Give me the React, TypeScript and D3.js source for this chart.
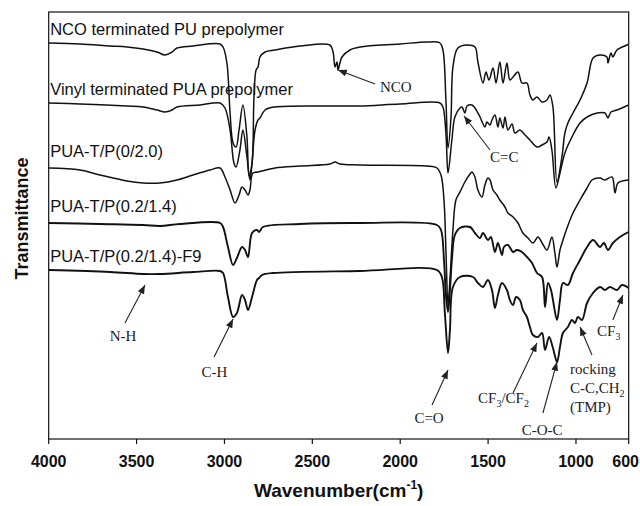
import React from "react";
import * as d3 from "d3";

type Pt = [number, number]; // [wavenumber cm-1, transmittance a.u. (stacked)]

const SERIES_NAMES = [
  "NCO terminated PU prepolymer",
  "Vinyl terminated PUA prepolymer",
  "PUA-T/P(0/2.0)",
  "PUA-T/P(0.2/1.4)",
  "PUA-T/P(0.2/1.4)-F9",
];
const LABEL_LEVELS = [404, 344, 282, 227, 177];

const ncoSpectrum: Pt[] = [
  [4000, 396], [3822, 395], [3651, 393], [3555, 392], [3463, 390], [3384, 387], [3338, 384], [3298, 387],
  [3270, 391], [3179, 393], [3025, 395], [3008, 392], [2986, 376], [2968, 326], [2951, 296], [2934, 292],
  [2917, 309], [2895, 334], [2872, 302], [2860, 263], [2843, 276], [2832, 342], [2820, 369], [2809, 372],
  [2798, 382], [2769, 387], [2712, 389], [2570, 393], [2400, 394], [2382, 387], [2371, 372], [2360, 377],
  [2354, 369], [2343, 376], [2331, 382], [2286, 389], [2229, 392], [2001, 395], [1848, 397], [1774, 396],
  [1757, 389], [1740, 339], [1728, 291], [1711, 322], [1700, 372], [1672, 391], [1620, 394], [1575, 392],
  [1558, 377], [1529, 356], [1512, 367], [1495, 359], [1472, 371], [1455, 356], [1433, 377], [1415, 356],
  [1393, 376], [1376, 359], [1358, 362], [1330, 367], [1307, 356], [1279, 356], [1262, 344], [1245, 339],
  [1222, 342], [1193, 337], [1165, 339], [1148, 344], [1131, 332], [1108, 257], [1080, 282], [1063, 306],
  [1046, 316], [1017, 326], [977, 339], [937, 356], [903, 381], [863, 384], [824, 382], [818, 376],
  [801, 386], [790, 382], [767, 389], [710, 394], [701, 395],
];

const vinylSpectrum: Pt[] = [
  [4000, 336], [3822, 335], [3555, 333], [3463, 332], [3384, 329], [3338, 327], [3298, 329], [3270, 332],
  [3139, 334], [3025, 336], [2997, 331], [2968, 309], [2946, 276], [2934, 272], [2912, 289], [2895, 309],
  [2872, 282], [2855, 259], [2843, 276], [2826, 309], [2809, 319], [2798, 321], [2769, 329], [2712, 332],
  [2400, 333], [2229, 333], [2001, 335], [1774, 336], [1757, 332], [1740, 306], [1728, 266], [1706, 299],
  [1689, 322], [1660, 331], [1649, 332], [1632, 326], [1620, 333], [1592, 334], [1575, 331], [1546, 322],
  [1518, 312], [1507, 317], [1489, 314], [1478, 319], [1461, 324], [1444, 312], [1433, 321], [1415, 311],
  [1404, 322], [1387, 309], [1364, 315], [1347, 306], [1319, 309], [1290, 304], [1262, 299], [1222, 292],
  [1193, 294], [1165, 297], [1153, 302], [1137, 289], [1114, 251], [1091, 266], [1063, 286], [1023, 302],
  [977, 316], [937, 322], [880, 326], [835, 326], [818, 321], [801, 327], [767, 329], [701, 334],
];

const tp020Spectrum: Pt[] = [
  [4000, 271], [3822, 269], [3708, 264], [3555, 258], [3463, 256], [3367, 256], [3270, 259], [3179, 264],
  [3082, 269], [3025, 271], [2997, 262], [2968, 249], [2940, 236], [2917, 244], [2900, 252], [2883, 249],
  [2866, 244], [2855, 249], [2838, 266], [2809, 267], [2712, 271], [2570, 273], [2400, 275], [2371, 277],
  [2343, 275], [2229, 274], [1848, 273], [1791, 271], [1768, 264], [1751, 239], [1740, 189], [1728, 134],
  [1717, 159], [1700, 209], [1683, 239], [1660, 247], [1632, 257], [1603, 265], [1592, 267], [1575, 262],
  [1558, 249], [1535, 242], [1518, 254], [1501, 261], [1489, 259], [1472, 249], [1450, 244], [1433, 239],
  [1404, 232], [1387, 226], [1358, 222], [1330, 216], [1302, 206], [1273, 201], [1245, 196], [1216, 202],
  [1193, 196], [1165, 189], [1137, 202], [1120, 186], [1108, 172], [1091, 189], [1074, 199], [1051, 211],
  [1017, 226], [977, 239], [937, 251], [909, 259], [863, 261], [835, 259], [795, 262], [778, 246],
  [761, 256], [701, 259],
];

const tp214Spectrum: Pt[] = [
  [4000, 216], [3708, 215], [3463, 214], [3367, 213], [3253, 215], [3025, 216], [3008, 212], [2980, 192],
  [2951, 174], [2929, 181], [2900, 192], [2883, 189], [2866, 182], [2843, 206], [2815, 209], [2803, 207],
  [2781, 212], [2570, 215], [2229, 216], [1791, 214], [1768, 209], [1751, 179], [1740, 144], [1728, 127],
  [1717, 149], [1706, 179], [1689, 204], [1660, 211], [1603, 212], [1575, 206], [1546, 201], [1529, 206],
  [1501, 199], [1484, 202], [1461, 187], [1444, 196], [1421, 184], [1410, 192], [1387, 194], [1358, 187],
  [1336, 189], [1307, 187], [1279, 182], [1250, 176], [1222, 166], [1193, 162], [1176, 132], [1159, 156],
  [1142, 149], [1131, 139], [1108, 119], [1091, 139], [1074, 156], [1046, 154], [1017, 166], [977, 179],
  [937, 192], [903, 199], [863, 192], [841, 196], [818, 189], [790, 196], [750, 202], [701, 207],
];

const f9Spectrum: Pt[] = [
  [4000, 169], [3651, 167], [3463, 165], [3367, 165], [3179, 167], [3025, 168], [3008, 166], [2980, 142],
  [2951, 122], [2929, 126], [2900, 144], [2883, 139], [2866, 129], [2843, 142], [2815, 159], [2803, 161],
  [2786, 164], [2724, 166], [2229, 168], [1791, 169], [1763, 162], [1746, 126], [1728, 86], [1717, 109],
  [1700, 152], [1660, 162], [1586, 162], [1558, 156], [1529, 152], [1501, 159], [1478, 149], [1461, 131],
  [1444, 144], [1421, 156], [1393, 149], [1376, 139], [1358, 134], [1341, 142], [1319, 139], [1302, 129],
  [1279, 122], [1262, 112], [1245, 104], [1216, 102], [1193, 106], [1176, 89], [1153, 102], [1131, 91],
  [1108, 77], [1091, 92], [1074, 106], [1046, 112], [1023, 119], [1006, 116], [989, 122], [966, 119],
  [937, 136], [903, 146], [863, 152], [835, 149], [807, 152], [767, 149], [738, 154], [701, 151],
];

const SPECTRA = [ncoSpectrum, vinylSpectrum, tp020Spectrum, tp214Spectrum, f9Spectrum];
const STROKES = [1.5, 1.5, 1.5, 1.9, 1.9];

const X_TICKS = [4000, 3500, 3000, 2500, 2000, 1500, 1000, 700];
const X_TICK_LABELS = ["4000", "3500", "3000", "2500", "2000", "1500", "1000", "600"];

type Ann = {
  parts: { t: string; sub?: boolean }[][];
  at: Pt;
  anchor: "start" | "middle";
  from: Pt;
  to: Pt;
};

const ANNOTATIONS: Ann[] = [
  { parts: [[{ t: "NCO" }]], at: [2115, 347], anchor: "start", from: [2143, 355], to: [2354, 369] },
  { parts: [[{ t: "C=C" }]], at: [1489, 277], anchor: "start", from: [1489, 289], to: [1637, 323] },
  { parts: [[{ t: "N-H" }]], at: [3577, 98], anchor: "middle", from: [3566, 116], to: [3452, 154] },
  { parts: [[{ t: "C-H" }]], at: [3057, 62], anchor: "middle", from: [3059, 82], to: [2951, 120] },
  { parts: [[{ t: "C=O" }]], at: [1836, 16], anchor: "middle", from: [1819, 34], to: [1728, 69] },
  {
    parts: [[{ t: "CF" }, { t: "3", sub: true }, { t: "/CF" }, { t: "2", sub: true }]],
    at: [1557, 36], anchor: "start", from: [1358, 46], to: [1222, 96],
  },
  { parts: [[{ t: "C-O-C" }]], at: [1193, 4], anchor: "middle", from: [1188, 26], to: [1108, 77] },
  {
    parts: [[{ t: "rocking" }], [{ t: "C-C,CH" }, { t: "2", sub: true }], [{ t: "(TMP)" }]],
    at: [1034, 65], anchor: "start", from: [909, 84], to: [977, 112],
  },
  { parts: [[{ t: "CF" }, { t: "3", sub: true }]], at: [880, 103], anchor: "start", from: [790, 119], to: [733, 144] },
];

const BOX = { left: 48.7, right: 628.7, top: 12, bottom: 439 };

export default function App() {
  const x = d3.scaleLinear().domain([4000, 700]).range([BOX.left, BOX.right]);
  const y = d3.scaleLinear().domain([0, 427]).range([BOX.bottom, BOX.top]);
  const line = d3
    .line<Pt>()
    .x((d) => x(d[0]))
    .y((d) => y(d[1]))
    .curve(d3.curveCatmullRom.alpha(0.5));

  const sans = "Arial, 'Liberation Sans', Helvetica, sans-serif";
  const serif = "'Times New Roman', 'Liberation Serif', serif";
  const lineGap = 19;
  const lastTick = X_TICKS.length - 1;

  return (
    <svg width={640} height={506} style={{ position: "absolute", left: 0, top: 0, background: "#fff" }}>
      <defs>
        <marker id="ah" viewBox="0 0 10 8" refX="10" refY="4" markerWidth="9" markerHeight="7" markerUnits="userSpaceOnUse" orient="auto">
          <path d="M0,0 L10,4 L0,8 Z" fill="#222" />
        </marker>
        <clipPath id="plotclip">
          <rect x={BOX.left} y={BOX.top} width={BOX.right - BOX.left} height={BOX.bottom - BOX.top} />
        </clipPath>
      </defs>
      <rect x={0} y={0} width={640} height={506} fill="#fff" />

      <g clipPath="url(#plotclip)">
        {SPECTRA.map((s, i) => (
          <path key={i} d={line(s) || ""} fill="none" stroke="#111" strokeWidth={STROKES[i]} strokeLinejoin="round" />
        ))}
      </g>

      {SERIES_NAMES.map((n, i) => (
        <text key={n} x={BOX.left + 1.5} y={y(LABEL_LEVELS[i])} fontFamily={sans} fontSize={16.5} fill="#111">
          {n}
        </text>
      ))}

      {ANNOTATIONS.map((a, i) => (
        <g key={i}>
          <line x1={x(a.from[0])} y1={y(a.from[1])} x2={x(a.to[0])} y2={y(a.to[1])} stroke="#222" strokeWidth={1.1} markerEnd="url(#ah)" />
          {a.parts.map((row, r) => (
            <text key={r} x={x(a.at[0])} y={y(a.at[1]) + r * lineGap} textAnchor={a.anchor} fontFamily={serif} fontSize={15} fill="#222">
              {row.map((p, k) =>
                p.sub ? (
                  <tspan key={k} fontSize={10} dy={4}>{p.t}</tspan>
                ) : (
                  <tspan key={k} dy={k > 0 && row[k - 1].sub ? -4 : 0}>{p.t}</tspan>
                )
              )}
            </text>
          ))}
        </g>
      ))}

      <rect x={BOX.left} y={BOX.top} width={BOX.right - BOX.left} height={BOX.bottom - BOX.top} fill="none" stroke="#111" strokeWidth={1.2} />

      {X_TICKS.map((t, i) => (
        <g key={t}>
          <line x1={x(t)} x2={x(t)} y1={BOX.bottom} y2={BOX.bottom + 5} stroke="#111" strokeWidth={1.2} />
          <text
            x={i === lastTick ? 639 : x(t)}
            y={467}
            textAnchor={i === lastTick ? "end" : "middle"}
            fontFamily={sans}
            fontWeight="bold"
            fontSize={16}
            fill="#111"
          >
            {X_TICK_LABELS[i]}
          </text>
        </g>
      ))}

      <text x={(BOX.left + BOX.right) / 2} y={497} textAnchor="middle" fontFamily={sans} fontWeight="bold" fontSize={19} fill="#111">
        Wavenumber(cm<tspan fontSize={12} dy={-8}>-1</tspan><tspan dy={8}>)</tspan>
      </text>

      <text transform={`translate(28,${(BOX.top + BOX.bottom) / 2 - 7}) rotate(-90)`} textAnchor="middle" fontFamily={sans} fontWeight="bold" fontSize={18} fill="#111">
        Transmittance
      </text>
    </svg>
  );
}
